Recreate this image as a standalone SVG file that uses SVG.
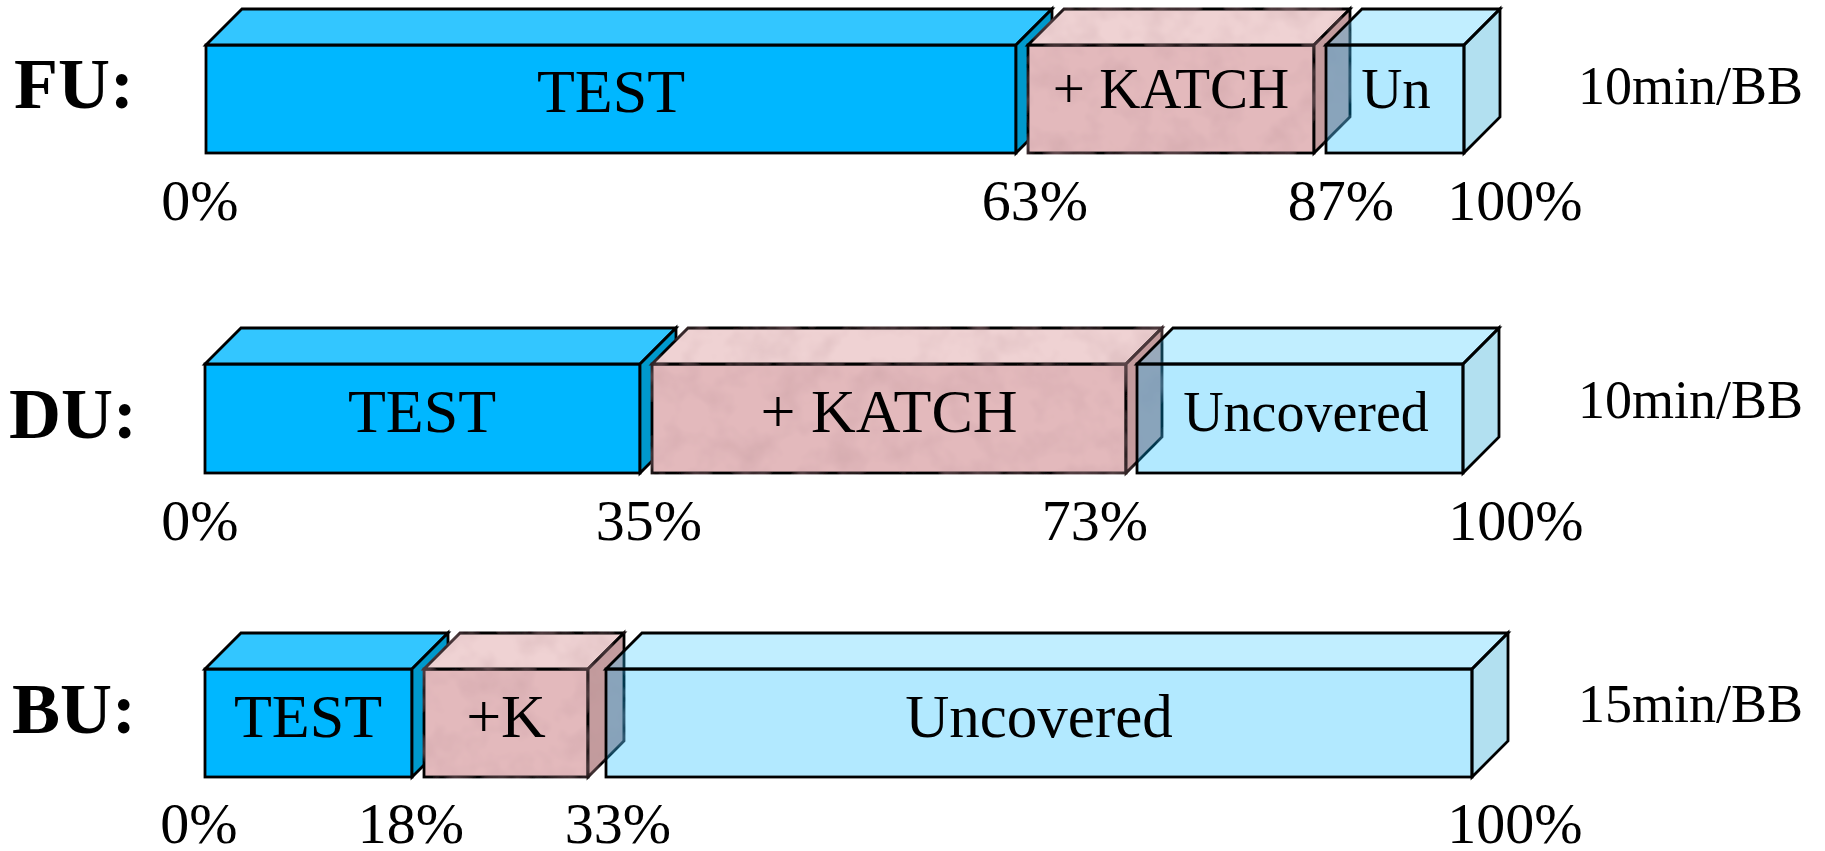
<svg xmlns="http://www.w3.org/2000/svg" width="1825" height="851" viewBox="0 0 1825 851">
  <defs>
    <style>
      .face { stroke: #000; stroke-width: 2.8; stroke-linejoin: miter; }
      .t-front { fill: #00b7ff; }
      .t-top { fill: #33c6ff; }
      .t-side { fill: #0099cc; }
      .k-front { fill: #e3b9bc; }
      .k-top { fill: #efd2d3; }
      .k-side { fill: #c49c9e; }
      .u-front { fill: #00b7ff; fill-opacity: 0.3; }
      .u-top { fill: #33c6ff; fill-opacity: 0.3; }
      .u-side { fill: #0099cc; fill-opacity: 0.3; }
      .title { font-family: "Liberation Serif", "Times New Roman", serif; font-weight: bold; font-size: 72px; fill: #000; }
      .lbl { font-family: "Liberation Serif", "Times New Roman", serif; font-size: 62px; fill: #000; text-anchor: middle; }
      .pct { font-family: "Liberation Serif", "Times New Roman", serif; font-size: 58px; fill: #000; text-anchor: middle; }
      .rate { font-family: "Liberation Serif", "Times New Roman", serif; font-size: 54px; fill: #000; }
    </style>
    <!-- mottled texture for the KATCH blocks -->
    <filter id="grain" x="-5%" y="-5%" width="110%" height="110%">
      <feTurbulence type="fractalNoise" baseFrequency="0.03" numOctaves="3" seed="7" result="noise"/>
      <feColorMatrix in="noise" type="matrix" values="0 0 0 0 0.45  0 0 0 0 0.25  0 0 0 0 0.28  0.6 0 0 0 -0.25" result="tint"/>
      <feComposite in="tint" in2="SourceGraphic" operator="atop"/>
    </filter>
  </defs>

  <rect width="1825" height="851" fill="#fff"/>

  <!-- Row FU -->
  <g id="row-fu">
    <text class="title" x="14" y="108">FU:</text>
    <g id="fu-test">
      <rect class="face t-front" x="206" y="45" width="810" height="108"/>
      <path class="face t-top" d="M206 45 L242 9 L1052 9 L1016 45 Z"/>
      <path class="face t-side" d="M1016 45 L1052 9 L1052 117 L1016 153 Z"/>
      <text class="lbl" x="611" y="112">TEST</text>
    </g>
    <g id="fu-katch">
      <g filter="url(#grain)">
        <rect class="face k-front" x="1028" y="45" width="286" height="108"/>
        <path class="face k-top" d="M1028 45 L1064 9 L1350 9 L1314 45 Z"/>
        <path class="face k-side" d="M1314 45 L1350 9 L1350 117 L1314 153 Z"/>
      </g>
      <text class="lbl" x="1171" y="108" style="font-size:57px">+ KATCH</text>
    </g>
    <g id="fu-uncovered">
      <rect class="face u-front" x="1326" y="45" width="138" height="108"/>
      <path class="face u-top" d="M1326 45 L1362 9 L1500 9 L1464 45 Z"/>
      <path class="face u-side" d="M1464 45 L1500 9 L1500 117 L1464 153 Z"/>
      <text class="lbl" x="1396" y="108" style="font-size:57px">Un</text>
    </g>
    <text class="pct" x="200" y="220">0%</text>
    <text class="pct" x="1035" y="220">63%</text>
    <text class="pct" x="1341" y="220">87%</text>
    <text class="pct" x="1515" y="220">100%</text>
    <text class="rate" x="1578" y="104">10min/BB</text>
  </g>

  <!-- Row DU -->
  <g id="row-du">
    <text class="title" x="9" y="438">DU:</text>
    <g id="du-test">
      <rect class="face t-front" x="205" y="364" width="435" height="109"/>
      <path class="face t-top" d="M205 364 L241 328 L676 328 L640 364 Z"/>
      <path class="face t-side" d="M640 364 L676 328 L676 437 L640 473 Z"/>
      <text class="lbl" x="422" y="432">TEST</text>
    </g>
    <g id="du-katch">
      <g filter="url(#grain)">
        <rect class="face k-front" x="652" y="364" width="474" height="109"/>
        <path class="face k-top" d="M652 364 L688 328 L1162 328 L1126 364 Z"/>
        <path class="face k-side" d="M1126 364 L1162 328 L1162 437 L1126 473 Z"/>
      </g>
      <text class="lbl" x="889" y="432">+ KATCH</text>
    </g>
    <g id="du-uncovered">
      <rect class="face u-front" x="1137" y="364" width="326" height="109"/>
      <path class="face u-top" d="M1137 364 L1173 328 L1499 328 L1463 364 Z"/>
      <path class="face u-side" d="M1463 364 L1499 328 L1499 437 L1463 473 Z"/>
      <text class="lbl" x="1306" y="431" style="font-size:56px">Uncovered</text>
    </g>
    <text class="pct" x="200" y="540">0%</text>
    <text class="pct" x="649" y="540">35%</text>
    <text class="pct" x="1095" y="540">73%</text>
    <text class="pct" x="1516" y="540">100%</text>
    <text class="rate" x="1578" y="418">10min/BB</text>
  </g>

  <!-- Row BU -->
  <g id="row-bu">
    <text class="title" x="12" y="733">BU:</text>
    <g id="bu-test">
      <rect class="face t-front" x="205" y="669" width="207" height="108"/>
      <path class="face t-top" d="M205 669 L241 633 L448 633 L412 669 Z"/>
      <path class="face t-side" d="M412 669 L448 633 L448 741 L412 777 Z"/>
      <text class="lbl" x="308" y="737">TEST</text>
    </g>
    <g id="bu-katch">
      <g filter="url(#grain)">
        <rect class="face k-front" x="424" y="669" width="164" height="108"/>
        <path class="face k-top" d="M424 669 L460 633 L624 633 L588 669 Z"/>
        <path class="face k-side" d="M588 669 L624 633 L624 741 L588 777 Z"/>
      </g>
      <text class="lbl" x="506" y="737">+K</text>
    </g>
    <g id="bu-uncovered">
      <rect class="face u-front" x="606" y="669" width="866" height="108"/>
      <path class="face u-top" d="M606 669 L642 633 L1508 633 L1472 669 Z"/>
      <path class="face u-side" d="M1472 669 L1508 633 L1508 741 L1472 777 Z"/>
      <text class="lbl" x="1039" y="737" style="font-size:61px">Uncovered</text>
    </g>
    <text class="pct" x="199" y="843">0%</text>
    <text class="pct" x="411" y="843">18%</text>
    <text class="pct" x="618" y="843">33%</text>
    <text class="pct" x="1515" y="843">100%</text>
    <text class="rate" x="1578" y="722">15min/BB</text>
  </g>
</svg>
